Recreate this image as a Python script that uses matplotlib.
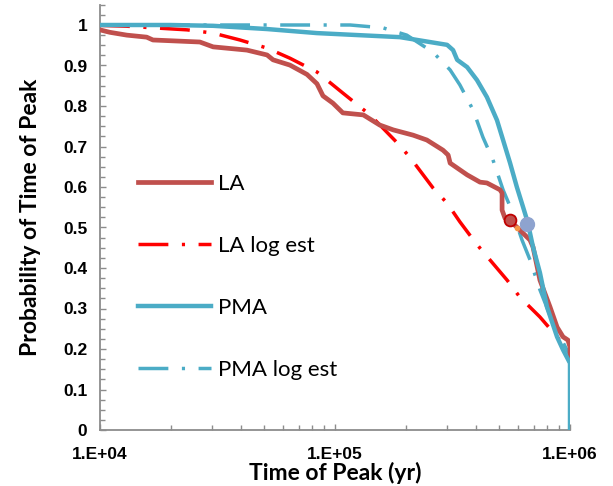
import matplotlib
matplotlib.use("Agg")
import matplotlib.pyplot as plt
from matplotlib.ticker import FixedLocator, FixedFormatter, LogLocator, MultipleLocator, NullFormatter

# ---- data ----
la_x = [1.0e4, 1.1e4, 1.3e4, 1.58e4, 1.68e4, 2.66e4, 3.03e4, 4.22e4, 5.14e4, 5.45e4,
        6.43e4, 7.6e4, 8.38e4, 8.89e4, 9.8e4, 1.08e5, 1.32e5, 1.55e5, 1.77e5, 2.15e5,
        2.46e5, 2.88e5, 3.03e5, 3.09e5, 3.65e5, 4.14e5, 4.43e5, 5.04e5, 5.14e5, 5.14e5,
        5.29e5, 5.56e5, 5.94e5, 6.76e5, 6.96e5, 7.45e5, 8.22e5, 8.81e5, 9.34e5, 9.8e5,
        1.0e6, 1.0e6]
la_y = [0.988, 0.982, 0.975, 0.970, 0.963, 0.958, 0.946, 0.938, 0.926, 0.914,
        0.901, 0.878, 0.855, 0.825, 0.807, 0.783, 0.778, 0.753, 0.741, 0.728,
        0.716, 0.691, 0.679, 0.659, 0.630, 0.612, 0.610, 0.593, 0.585, 0.543,
        0.523, 0.516, 0.501, 0.469, 0.452, 0.370, 0.304, 0.254, 0.230, 0.222,
        0.205, 0.173]

la_log_x = [1.0e4, 1.3e4, 2.35e4, 3.03e4, 3.94e4, 5.14e4, 6.43e4, 8.38e4, 1.08e5, 1.41e5,
            1.84e5, 2.08e5, 2.61e5, 3.0e5, 3.4e5, 3.75e5, 4.14e5, 5.4e5, 6.12e5, 7.45e5,
            8.81e5, 9.7e5, 1.0e6]
la_log_y = [0.999, 0.997, 0.988, 0.980, 0.963, 0.943, 0.918, 0.884, 0.832, 0.778,
            0.709, 0.674, 0.598, 0.560, 0.514, 0.481, 0.449, 0.370, 0.328, 0.279,
            0.230, 0.202, 0.198]

pma_x = [1.0e4, 2.0e4, 3.03e4, 5.14e4, 8.38e4, 1.89e5, 3.0e5, 3.18e5, 3.31e5, 3.65e5,
         4.02e5, 4.43e5, 4.89e5, 5.19e5, 5.56e5, 5.94e5, 6.31e5, 6.56e5, 6.76e5, 6.96e5,
         7.45e5, 7.98e5, 8.81e5, 9.34e5, 1.0e6, 1.0e6]
pma_y = [1.0, 1.0, 0.998, 0.99, 0.98, 0.970, 0.951, 0.938, 0.914, 0.896,
         0.864, 0.822, 0.765, 0.716, 0.659, 0.600, 0.551, 0.519, 0.486, 0.452,
         0.388, 0.304, 0.230, 0.198, 0.165, 0.0]

pma_log_x = [1.0e4, 5.0e4, 1.16e5, 1.6e5, 2.02e5, 2.61e5, 3.09e5, 3.4e5, 3.87e5, 4.26e5,
             4.7e5, 5.19e5, 5.71e5, 6.25e5, 6.76e5, 7.45e5, 8.47e5, 9.7e5, 1.0e6]
pma_log_y = [1.0, 1.0, 1.0, 0.993, 0.975, 0.933, 0.889, 0.852, 0.790, 0.723,
             0.667, 0.593, 0.536, 0.469, 0.420, 0.346, 0.264, 0.198, 0.185]

la_mark = (5.56e5, 0.518)
pma_mark = (6.56e5, 0.509)
orange_mark = (5.94e5, 0.499)

series_labels = ["LA", "LA log est", "PMA", "PMA log est"]
x_ticks = [1e4, 1e5, 1e6]
x_tick_labels = ["1.E+04", "1.E+05", "1.E+06"]
y_ticks = [0, 0.1, 0.2, 0.3, 0.4, 0.5, 0.6, 0.7, 0.8, 0.9, 1.0]
y_tick_labels = ["0", "0.1", "0.2", "0.3", "0.4", "0.5", "0.6", "0.7", "0.8", "0.9", "1"]

# ---- figure ----
fig = plt.figure(figsize=(6.13, 4.86), dpi=100)
ax = fig.add_axes([100 / 613, 56 / 486, 470 / 613, 425.25 / 486])

c_la = "#c0504d"
c_red = "#ff0000"
c_blue = "#4bacc6"
dd = (8.6, 3.9, 0.9, 3.9)

ax.plot(la_x, la_y, color=c_la, lw=3.4, label=series_labels[0], solid_joinstyle="round", zorder=3)
ax.plot(la_log_x, la_log_y, color=c_red, lw=2.5, dashes=dd, label=series_labels[1], zorder=2)
ax.plot(pma_x, pma_y, color=c_blue, lw=3.2, label=series_labels[2], solid_joinstyle="round", zorder=3)
ax.plot(pma_log_x, pma_log_y, color=c_blue, lw=2.5, dashes=dd, label=series_labels[3], zorder=2)

ax.plot([la_mark[0]], [la_mark[1]], "o", ms=8.5, mfc="#c0504d", mec="#c00000", mew=1.3, zorder=5)
ax.plot([orange_mark[0]], [orange_mark[1]], "o", ms=3, mfc="#f79646", mec="#f79646", zorder=4)
ax.plot([pma_mark[0]], [pma_mark[1]], "o", ms=10, mfc="#8ea3cf", mec="#8ea3cf", zorder=5)

ax.set_xscale("log")
ax.set_xlim(1e4, 1e6)
ax.set_ylim(0, 1.05)

ax.xaxis.set_major_locator(FixedLocator(x_ticks))
ax.xaxis.set_major_formatter(FixedFormatter(x_tick_labels))
ax.xaxis.set_minor_locator(LogLocator(base=10, subs=range(2, 10)))
ax.xaxis.set_minor_formatter(NullFormatter())
ax.yaxis.set_major_locator(FixedLocator(y_ticks))
ax.yaxis.set_major_formatter(FixedFormatter(y_tick_labels))
ax.yaxis.set_minor_locator(MultipleLocator(0.025))

for s in ["top", "right"]:
    ax.spines[s].set_visible(False)
for s in ["left", "bottom"]:
    ax.spines[s].set_color("#8c8c8c")
    ax.spines[s].set_linewidth(1.3)

ax.tick_params(which="both", direction="in", color="#8c8c8c", width=1.0)
ax.tick_params(which="major", length=4)
ax.tick_params(which="minor", length=3.5)
ax.tick_params(axis="y", pad=9)
ax.tick_params(axis="x", pad=12)

for lbl in ax.get_xticklabels() + ax.get_yticklabels():
    lbl.set_fontfamily("Liberation Sans")
    lbl.set_fontweight("bold")
    lbl.set_fontsize(12.5)

ax.set_xlabel("Time of Peak (yr)", fontfamily="Lato", fontweight="bold", fontsize=16.5, labelpad=0)
ax.set_ylabel("Probability of Time of Peak", fontfamily="Lato", fontweight="bold", fontsize=16.5, labelpad=16)

leg = ax.legend(loc="upper left", bbox_to_anchor=(0.081, 0.603), frameon=False,
                prop=dict(family="Lato", size=16), handlelength=3.3, handletextpad=0.3,
                labelspacing=1.89, borderpad=0, borderaxespad=0)

fig.savefig("out.png", dpi=100)
